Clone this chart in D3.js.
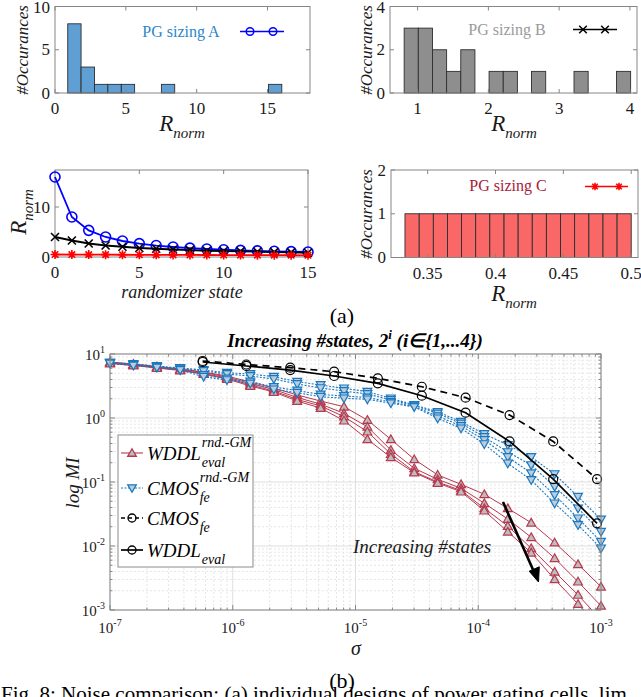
<!DOCTYPE html>
<html>
<head>
<meta charset="utf-8">
<script src="https://cdn.jsdelivr.net/npm/d3@7/dist/d3.min.js"></script>
<style>
  body { margin: 0; background: #fff; }
  svg, text, tspan { font-family: "Liberation Serif", "Times New Roman", Times, serif; }
</style>
</head>
<body>
<script>
// ---- values ----
var randState = [0, 1, 2, 3, 4, 5, 6, 7, 8, 9, 10, 11, 12, 13, 14, 15];
var rnormA = [16, 8, 5.33, 4, 3.2, 2.67, 2.29, 2, 1.78, 1.6, 1.45, 1.33, 1.23, 1.14, 1.07, 1];
var rnormB = [4.0, 3.3, 2.7, 2.3, 2.05, 1.8, 1.65, 1.5, 1.38, 1.25, 1.18, 1.12, 1.05, 0.98, 0.92, 0.85];
var rnormC = [0.497, 0.487, 0.476, 0.466, 0.455, 0.445, 0.435, 0.424, 0.414, 0.403, 0.393, 0.383, 0.372, 0.362, 0.351, 0.341];

// histogram bin edges
var edgesA = [0.9, 1.84, 2.79, 3.73, 4.68, 5.62, 6.57, 7.51, 8.45, 9.4, 10.34, 11.29, 12.23, 13.18, 14.12, 15.07, 16.01];
var edgesB = [0.81, 1.01, 1.21, 1.41, 1.61, 1.81, 2.01, 2.21, 2.41, 2.61, 2.81, 3.01, 3.21, 3.41, 3.61, 3.81, 4.01];
var edgesC = [0.3333, 0.3438, 0.3542, 0.3646, 0.375, 0.3854, 0.3958, 0.4063, 0.4167, 0.4271, 0.4375, 0.4479, 0.4583, 0.4688, 0.4792, 0.4896, 0.5];

var ticksAx = [0, 5, 10, 15], ticksAy = [0, 5, 10];
var ticksBx = [1, 2, 3, 4], ticksBy = [0, 2, 4];
var ticksCx = [0.35, 0.4, 0.45, 0.5], ticksCy = [0, 1, 2];
var ticksLx = [0, 5, 10, 15], ticksLy = [0, 10];

// sigma sweep (b)
var sigmaRnd = [1.00e-7, 1.55e-7, 2.41e-7, 3.73e-7, 5.79e-7, 8.98e-7, 1.39e-6, 2.16e-6, 3.35e-6, 5.20e-6, 8.06e-6,
                1.25e-5, 1.94e-5, 3.01e-5, 4.67e-5, 7.24e-5, 1.12e-4, 1.74e-4, 2.70e-4, 4.19e-4, 6.50e-4, 1.00e-3];
var sigmaRef = [5.69e-7, 1.29e-6, 2.94e-6, 6.70e-6, 1.52e-5, 3.47e-5, 7.89e-5, 1.80e-4, 4.08e-4, 9.29e-4];

var cmosFe   = [7.78, 6.85, 6.11, 5.29, 4.17, 3.08, 2.08, 1.11, 0.43, 0.111];
var wddlEval = [7.5, 6.5, 5.6, 4.53, 3.48, 2.23, 1.21, 0.43, 0.111, 0.0226];

var wddlRnd1 = [7.50, 6.98, 6.38, 5.83, 5.23, 4.53, 3.65, 2.94, 2.29, 1.84, 1.50, 0.93, 0.465, 0.226, 0.129, 0.092, 0.0643, 0.0388, 0.0231, 0.0113, 0.00518, 0.00231];
var wddlRnd2 = [7.36, 6.85, 6.26, 5.73, 5.14, 4.37, 3.46, 2.79, 2.09, 1.65, 1.18, 0.73, 0.316, 0.164, 0.110, 0.0798, 0.0465, 0.0264, 0.0137, 0.00643, 0.00277, 0.00116];
var wddlRnd3 = [7.23, 6.73, 6.15, 5.62, 4.96, 4.22, 3.28, 2.64, 1.95, 1.54, 1.05, 0.611, 0.274, 0.145, 0.100, 0.0736, 0.0388, 0.0205, 0.0092, 0.00396, 0.00172, 0.000698];
var wddlRnd4 = [7.11, 6.61, 6.04, 5.52, 4.87, 4.07, 3.16, 2.55, 1.84, 1.43, 0.907, 0.465, 0.243, 0.140, 0.0965, 0.0705, 0.0356, 0.0167, 0.00785, 0.00302, 0.00124, 0.000523];

var cmosRnd1 = [7.36, 6.98, 6.49, 6.04, 5.62, 5.10, 4.87, 4.42, 3.69, 3.28, 2.91, 2.58, 2.03, 1.60, 1.25, 0.875, 0.562, 0.379, 0.246, 0.133, 0.0589, 0.0261];
var cmosRnd2 = [7.23, 6.85, 6.38, 5.93, 5.43, 4.87, 4.53, 4.07, 3.40, 2.94, 2.64, 2.37, 1.91, 1.57, 1.18, 0.820, 0.505, 0.294, 0.184, 0.0845, 0.0388, 0.0167];
var cmosRnd3 = [7.23, 6.73, 6.26, 5.73, 4.70, 4.14, 3.72, 3.05, 2.69, 2.33, 2.21, 2.09, 1.78, 1.51, 1.07, 0.750, 0.453, 0.246, 0.137, 0.0626, 0.0271, 0.0117];
var cmosRnd4 = [7.11, 6.61, 6.15, 5.62, 4.42, 3.92, 3.48, 2.81, 2.48, 2.15, 2.03, 1.96, 1.70, 1.49, 0.989, 0.690, 0.392, 0.196, 0.1075, 0.0465, 0.0213, 0.0092];

var logTicksX = [1e-7, 1e-6, 1e-5, 1e-4, 1e-3], logTicksY = [1e-3, 1e-2, 1e-1, 1e0, 1e1];

// ---- styles ----
var axisCol = "#868686", txtCol = "#1a1a1a";
var redCol = "#b8384f", bluCol = "#1b78c0";
var serif = "'Liberation Serif', 'Times New Roman', Times, serif";

var svg = d3.select("body").append("svg").attr("width", 641).attr("height", 697)
  .attr("font-family", serif);

// marker shapes
function marker(kind, s) {
  if (kind == "o") return "M" + s + ",0A" + s + "," + s + " 0 1,1 " + (-s) + ",0A" + s + "," + s + " 0 1,1 " + s + ",0Z";
  if (kind == "x") return "M" + (-s) + "," + (-s) + "L" + s + "," + s + "M" + (-s) + "," + s + "L" + s + "," + (-s);
  if (kind == "*") { var d = s * 0.72;
    return "M" + (-s) + ",0H" + s + "M0," + (-s) + "V" + s + "M" + (-d) + "," + (-d) + "L" + d + "," + d + "M" + (-d) + "," + d + "L" + d + "," + (-d); }
  if (kind == "^") return "M0," + (-s) + "L" + s + "," + (s * 0.75) + "L" + (-s) + "," + (s * 0.75) + "Z";
  if (kind == "v") return "M0," + s + "L" + s + "," + (-s * 0.75) + "L" + (-s) + "," + (-s * 0.75) + "Z";
}

// box + inward ticks + tick labels for linear panels
function frame(x, y, xt, yt) {
  var x0 = x.range()[0], x1 = x.range()[1], y0 = y.range()[0], y1 = y.range()[1];
  var g = svg.append("g");
  g.append("rect").attr("x", x0).attr("y", y1).attr("width", x1 - x0).attr("height", y0 - y1)
    .attr("fill", "none").attr("stroke", axisCol).attr("stroke-width", 1);
  xt.forEach(function(v) {
    var px = x(v);
    g.append("path").attr("d", "M" + px + "," + y0 + "v-4M" + px + "," + y1 + "v4").attr("stroke", axisCol);
    g.append("text").attr("x", px).attr("y", y0 + 21).attr("text-anchor", "middle")
      .attr("font-size", 17).attr("fill", txtCol).text(v);
  });
  yt.forEach(function(v) {
    var py = y(v);
    g.append("path").attr("d", "M" + x0 + "," + py + "h4M" + x1 + "," + py + "h-4").attr("stroke", axisCol);
    g.append("text").attr("x", x0 - 5).attr("y", Math.max(py + 5.5, 13)).attr("text-anchor", "end")
      .attr("font-size", 17).attr("fill", txtCol).text(v);
  });
}

function histPanel(values, edges, fill, xs, ys, xt, yt) {
  var bins = d3.bin().domain([edges[0], edges[edges.length - 1]]).thresholds(edges.slice(1, -1))(values);
  svg.append("g").selectAll("rect").data(bins.filter(function(b) { return b.length > 0; })).join("rect")
    .attr("x", function(b) { return xs(b.x0); })
    .attr("width", function(b) { return xs(b.x1) - xs(b.x0); })
    .attr("y", function(b) { return ys(b.length); })
    .attr("height", function(b) { return ys(0) - ys(b.length); })
    .attr("fill", fill).attr("stroke", "#2e2e2e").attr("stroke-width", 0.9);
  frame(xs, ys, xt, yt);
}

function rLabel(x, y, rotate) {
  var t = svg.append("text").attr("text-anchor", "middle").attr("font-style", "italic").attr("fill", txtCol)
    .attr("transform", "translate(" + x + "," + y + ")" + (rotate ? " rotate(-90)" : ""));
  t.append("tspan").attr("font-size", 23).text("R");
  t.append("tspan").attr("font-size", 15).attr("dy", 7).text("norm");
}

function occLabel(x, y) {
  svg.append("text").attr("transform", "translate(" + x + "," + y + ") rotate(-90)").attr("text-anchor", "middle")
    .attr("font-size", 17).attr("font-style", "italic").attr("fill", txtCol).text("#Occurances");
}

function pgLegend(label, col, tx, ty, lx0, lx1, ly, kind, lineCol, mk) {
  svg.append("text").attr("x", tx).attr("y", ty).attr("text-anchor", "middle").attr("font-size", 16)
    .attr("fill", col).text(label);
  svg.append("line").attr("x1", lx0).attr("x2", lx1).attr("y1", ly).attr("y2", ly)
    .attr("stroke", lineCol).attr("stroke-width", 1.6);
  mk.forEach(function(px) {
    svg.append("path").attr("transform", "translate(" + px + "," + ly + ")").attr("d", marker(kind, 3.8))
      .attr("fill", "none").attr("stroke", lineCol).attr("stroke-width", 1.5);
  });
}

// ---- (a) top-left: PG sizing A ----
var xA = d3.scaleLinear().domain([0, 18]).range([55, 310]);
var yA = d3.scaleLinear().domain([0, 10]).range([93, 6.5]);
histPanel(rnormA, edgesA, "#5f9fd3", xA, yA, ticksAx, ticksAy);
pgLegend("PG sizing A", "#2a86c8", 181, 37, 240, 284, 31.5, "o", "#0000ff", [250, 273]);
occLabel(28, 50);
rLabel(182, 131, false);

// ---- (a) top-right: PG sizing B ----
var xB = d3.scaleLinear().domain([0.61, 4.1]).range([390, 637]);
var yB = d3.scaleLinear().domain([0, 4]).range([93, 6.5]);
histPanel(rnormB, edgesB, "#8e8e8e", xB, yB, ticksBx, ticksBy);
pgLegend("PG sizing B", "#9a9a9a", 507, 35, 573, 617, 29.5, "x", "#000000", [583, 605]);
occLabel(372, 50);
rLabel(514, 131, false);

// ---- (a) middle-right: PG sizing C ----
var xC = d3.scaleLinear().domain([0.323, 0.505]).range([391, 638]);
var yC = d3.scaleLinear().domain([0, 2]).range([257.5, 170]);
histPanel(rnormC, edgesC, "#fa6767", xC, yC, ticksCx, ticksCy);
pgLegend("PG sizing C", "#a8203a", 508, 191, 585, 628, 186.5, "*", "#ff0000", [595, 619]);
occLabel(372, 214);
rLabel(514, 301, false);

// ---- (a) middle-left: R_norm vs randomizer state ----
var xL = d3.scaleLinear().domain([0, 15]).range([55, 308]);
var yL = d3.scaleLinear().domain([0, 17.4]).range([257, 170]);
frame(xL, yL, ticksLx, ticksLy);
[[rnormA, "#0000ff", "o", 5], [rnormB, "#000000", "x", 4], [rnormC, "#ff0000", "*", 4.5]].forEach(function(s) {
  var line = d3.line().x(function(d, i) { return xL(randState[i]); }).y(function(d) { return yL(d); });
  svg.append("path").attr("d", line(s[0])).attr("fill", "none").attr("stroke", s[1]).attr("stroke-width", 1.8);
  svg.append("g").selectAll("path").data(s[0]).join("path")
    .attr("transform", function(d, i) { return "translate(" + xL(randState[i]) + "," + yL(d) + ")"; })
    .attr("d", marker(s[2], s[3])).attr("fill", "none").attr("stroke", s[1]).attr("stroke-width", 1.6);
});
rLabel(26, 212, true);
svg.append("text").attr("x", 182).attr("y", 298).attr("text-anchor", "middle").attr("font-size", 18)
  .attr("font-style", "italic").attr("fill", txtCol).text("randomizer state");

svg.append("text").attr("x", 342).attr("y", 323).attr("text-anchor", "middle").attr("font-size", 22)
  .attr("fill", "#000").text("(a)");

// ---- (b) MI vs sigma ----
var xS = d3.scaleLog().domain([1e-7, 1e-3]).range([110, 601]);
var yS = d3.scaleLog().domain([1e-3, 1e1]).range([610, 354]);
var px0 = 110, px1 = 601, py0 = 610, py1 = 354;

function isMajor(v) { var l = Math.log10(v); return Math.abs(l - Math.round(l)) < 1e-9; }

var grid = svg.append("g");
xS.ticks().forEach(function(v) {
  grid.append("line").attr("x1", xS(v)).attr("x2", xS(v)).attr("y1", py0).attr("y2", py1)
    .attr("stroke", isMajor(v) ? "#dedede" : "#e6e6e6").attr("stroke-dasharray", isMajor(v) ? null : "2,2");
});
yS.ticks().forEach(function(v) {
  grid.append("line").attr("x1", px0).attr("x2", px1).attr("y1", yS(v)).attr("y2", yS(v))
    .attr("stroke", isMajor(v) ? "#dedede" : "#e6e6e6").attr("stroke-dasharray", isMajor(v) ? null : "2,2");
});

svg.append("clipPath").attr("id", "plotClip").append("rect")
  .attr("x", px0).attr("y", py1).attr("width", px1 - px0).attr("height", py0 - py1);

function series(xs, ys, col, dash, kind, size, fill, width) {
  var line = d3.line().x(function(d, i) { return xS(xs[i]); }).y(function(d) { return yS(d); });
  svg.append("path").attr("d", line(ys)).attr("clip-path", "url(#plotClip)").attr("fill", "none")
    .attr("stroke", col).attr("stroke-width", width).attr("stroke-dasharray", dash);
  var pts = ys.map(function(d, i) { return [xs[i], d]; }).filter(function(p) { return p[1] >= 1e-3 && p[1] <= 10; });
  svg.append("g").selectAll("path").data(pts).join("path")
    .attr("transform", function(p) { return "translate(" + xS(p[0]) + "," + yS(p[1]) + ")"; })
    .attr("d", marker(kind, size)).attr("fill", fill).attr("stroke", col).attr("stroke-width", 1.2);
}

[wddlRnd1, wddlRnd2, wddlRnd3, wddlRnd4].forEach(function(s) {
  series(sigmaRnd, s, redCol, null, "^", 4.4, "#bdbdbd", 1);
});
[cmosRnd1, cmosRnd2, cmosRnd3, cmosRnd4].forEach(function(s) {
  series(sigmaRnd, s, bluCol, "2,1.5", "v", 4.4, "#b9cddd", 1.1);
});
series(sigmaRef, cmosFe, "#000", "7,5", "o", 4.5, "none", 1.7);
series(sigmaRef, wddlEval, "#000", null, "o", 4.5, "none", 1.7);

// axes box and ticks on all sides
var ax = svg.append("g");
ax.append("rect").attr("x", px0).attr("y", py1).attr("width", px1 - px0).attr("height", py0 - py1)
  .attr("fill", "none").attr("stroke", axisCol);
xS.ticks().forEach(function(v) {
  var L = isMajor(v) ? 5 : 2.5, p = xS(v);
  ax.append("path").attr("d", "M" + p + "," + py0 + "v" + (-L) + "M" + p + "," + py1 + "v" + L).attr("stroke", axisCol);
});
yS.ticks().forEach(function(v) {
  var L = isMajor(v) ? 5 : 2.5, p = yS(v);
  ax.append("path").attr("d", "M" + px0 + "," + p + "h" + L + "M" + px1 + "," + p + "h" + (-L)).attr("stroke", axisCol);
});

function powLabel(x, y, v, anchor) {
  var t = ax.append("text").attr("x", x).attr("y", y).attr("text-anchor", anchor).attr("font-size", 15).attr("fill", txtCol);
  t.append("tspan").text("10");
  t.append("tspan").attr("dy", -7).attr("font-size", 10).text(Math.round(Math.log10(v)));
}
logTicksX.forEach(function(v) { powLabel(xS(v), 633, v, "middle"); });
logTicksY.forEach(function(v) { powLabel(105, yS(v) + 6, v, "end"); });

svg.append("text").attr("transform", "translate(79,483) rotate(-90)").attr("text-anchor", "middle")
  .attr("font-size", 19).attr("font-style", "italic").attr("fill", txtCol).text("log MI");
svg.append("text").attr("x", 356).attr("y", 655).attr("text-anchor", "middle")
  .attr("font-size", 20).attr("font-style", "italic").attr("fill", txtCol).text("σ");

var title = svg.append("text").attr("x", 355).attr("y", 347).attr("text-anchor", "middle")
  .attr("font-size", 19).attr("font-weight", "bold").attr("font-style", "italic").attr("fill", "#000");
title.append("tspan").text("Increasing #states, 2");
title.append("tspan").attr("dy", -8).attr("font-size", 13).text("i");
title.append("tspan").attr("dy", 8).text(" (i∈{1,...4})");

// annotation arrow
svg.append("text").attr("x", 353).attr("y", 553).attr("font-size", 19).attr("font-style", "italic")
  .attr("fill", "#1a1a1a").text("Increasing #states");
svg.append("line").attr("x1", 503).attr("y1", 502).attr("x2", 534.5).attr("y2", 573)
  .attr("stroke", "#000").attr("stroke-width", 2.6);
svg.append("path").attr("d", "M538.5,582L529.2,571.2L539.3,566.8Z").attr("fill", "#000").attr("stroke", "#000");

// legend
var lg = svg.append("g");
lg.append("rect").attr("x", 118).attr("y", 435).attr("width", 135).attr("height", 132)
  .attr("fill", "#fff").attr("stroke", "#8c8c8c");
var legendRows = [
  { y: 453, main: "WDDL", sup: "rnd.-GM", sub: "eval", col: redCol, dash: null, kind: "^", fill: "#bdbdbd" },
  { y: 488, main: "CMOS", sup: "rnd.-GM", sub: "fe", col: bluCol, dash: "2,1.5", kind: "v", fill: "#b9cddd" },
  { y: 518, main: "CMOS", sup: null, sub: "fe", col: "#000", dash: "4,3", kind: "o", fill: "none" },
  { y: 550, main: "WDDL", sup: null, sub: "eval", col: "#000", dash: null, kind: "o", fill: "none" }
];
legendRows.forEach(function(r) {
  lg.append("line").attr("x1", 121).attr("x2", 143).attr("y1", r.y).attr("y2", r.y)
    .attr("stroke", r.col).attr("stroke-width", r.kind == "o" ? 1.7 : 1.1).attr("stroke-dasharray", r.dash);
  lg.append("path").attr("transform", "translate(132," + r.y + ")").attr("d", marker(r.kind, r.kind == "o" ? 4 : 4.3))
    .attr("fill", r.fill).attr("stroke", r.col).attr("stroke-width", 1.3);
  var base = r.y + 6.5;
  var m = lg.append("text").attr("x", 147).attr("y", base).attr("font-size", 19).attr("font-style", "italic")
    .attr("fill", "#000").text(r.main);
  var w = m.node().getComputedTextLength();
  if (r.sup) lg.append("text").attr("x", 148 + w).attr("y", base - 12.5).attr("font-size", 14)
    .attr("font-style", "italic").attr("fill", "#000").text(r.sup);
  lg.append("text").attr("x", 148 + w).attr("y", base + 7.5).attr("font-size", 14)
    .attr("font-style", "italic").attr("fill", "#000").text(r.sub);
});

// sub-figure label and caption
svg.append("text").attr("x", 342).attr("y", 688).attr("text-anchor", "middle").attr("font-size", 22)
  .attr("fill", "#000").text("(b)");
svg.append("text").attr("x", 1).attr("y", 701).attr("font-size", 21).attr("fill", "#000")
  .text("Fig. 8: Noise comparison: (a) individual designs of power gating cells, lim");
</script>
</body>
</html>
